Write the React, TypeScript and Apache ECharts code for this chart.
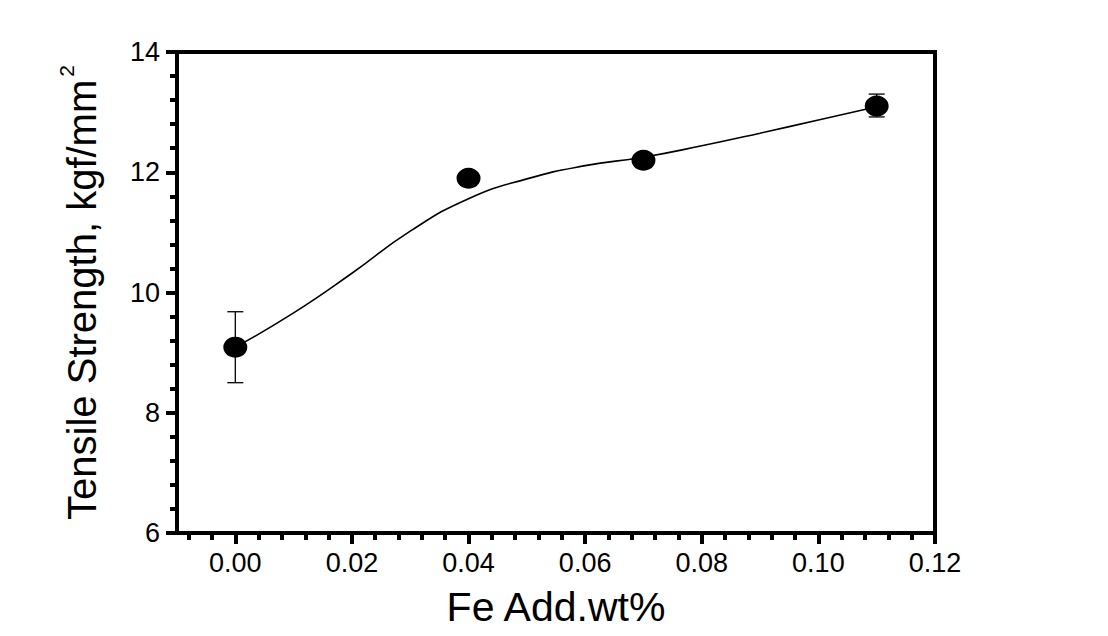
import React, { useEffect, useRef } from "react";
import * as echarts from "echarts";

// Measured points
const feAdd = [0, 0.04, 0.07, 0.11];
const strength = [9.09, 11.9, 12.2, 13.1];
// Error bars [x, low, high]
const errX = [0, 0.11];
const errLow = [8.5, 12.92];
const errHigh = [9.68, 13.3];
// Fitted curve
const curveX = [0, 0.01, 0.02, 0.03, 0.04, 0.05, 0.06, 0.07, 0.08, 0.09, 0.1, 0.11];
const curveY = [9.09, 9.66, 10.32, 11.02, 11.56, 11.89, 12.11, 12.25, 12.44, 12.65, 12.87, 13.09];
// Axis ticks
const xMajorTicks = [0, 0.02, 0.04, 0.06, 0.08, 0.1, 0.12];
const xMinorTicks = [
  -0.008, -0.004, 0.004, 0.008, 0.012, 0.016, 0.024, 0.028, 0.032, 0.036,
  0.044, 0.048, 0.052, 0.056, 0.064, 0.068, 0.072, 0.076, 0.084, 0.088,
  0.092, 0.096, 0.104, 0.108, 0.112, 0.116,
];

const FONT = "Liberation Sans, Arial, sans-serif";

export default function App() {
  const ref = useRef<HTMLDivElement>(null);
  useEffect(() => {
    document.body.style.margin = "0";
    const chart = echarts.init(ref.current!, null, { renderer: "svg" });
    const grid = { left: 177, right: 173, top: 52, bottom: 103, outerBoundsMode: "none" };
    const option: any = {
      animation: false,
      backgroundColor: "#fff",
      grid: [
        { ...grid, show: true, borderColor: "#000", borderWidth: 4, backgroundColor: "transparent" },
        { ...grid },
      ],
      xAxis: [
        {
          type: "value",
          gridIndex: 0,
          min: -0.01,
          max: 0.12,
          name: "Fe Add.wt%",
          nameLocation: "middle",
          nameGap: 53,
          nameTextStyle: { fontFamily: FONT, fontSize: 41, color: "#000" },
          axisLine: { show: true, onZero: false, lineStyle: { color: "#000", width: 4 } },
          axisTick: {
            show: true,
            customValues: xMajorTicks,
            length: 11,
            lineStyle: { color: "#000", width: 4 },
          },
          axisLabel: {
            customValues: xMajorTicks,
            formatter: (v: number) => v.toFixed(2),
            fontFamily: FONT,
            fontSize: 27,
            color: "#000",
            margin: 16,
          },
          splitLine: { show: false },
        },
        {
          type: "value",
          gridIndex: 1,
          min: -0.01,
          max: 0.12,
          axisLine: { show: false, onZero: false },
          axisTick: {
            show: true,
            customValues: xMinorTicks,
            length: 7,
            lineStyle: { color: "#000", width: 4 },
          },
          axisLabel: { show: false },
          splitLine: { show: false },
        },
      ],
      yAxis: [
        {
          type: "value",
          gridIndex: 0,
          min: 6,
          max: 14,
          interval: 2,
          name: "{a|Tensile Strength, kgf/mm}{s|2}",
          nameLocation: "middle",
          nameRotate: 90,
          nameGap: 75,
          nameTextStyle: {
            rich: {
              a: { fontFamily: FONT, fontSize: 40, color: "#000", lineHeight: 46, verticalAlign: "bottom" },
              s: { fontFamily: FONT, fontSize: 21, color: "#000", lineHeight: 46, verticalAlign: "top", padding: [0, 0, 0, 3] },
            },
          },
          axisLine: { show: true, onZero: false, lineStyle: { color: "#000", width: 4 } },
          axisTick: { show: true, length: 11, lineStyle: { color: "#000", width: 4 } },
          minorTick: { show: true, splitNumber: 5, length: 7, lineStyle: { color: "#000", width: 4 } },
          axisLabel: { fontFamily: FONT, fontSize: 27, color: "#000", margin: 17 },
          splitLine: { show: false },
          minorSplitLine: { show: false },
        },
        {
          type: "value",
          gridIndex: 1,
          min: 6,
          max: 14,
          show: false,
        },
      ],
      series: [
        {
          type: "line",
          xAxisIndex: 0,
          yAxisIndex: 0,
          data: curveX.map((x, i) => [x, curveY[i]]),
          smooth: 0.5,
          showSymbol: false,
          symbol: "none",
          lineStyle: { color: "#000", width: 1.6 },
          z: 2,
        },
        {
          type: "custom",
          xAxisIndex: 0,
          yAxisIndex: 0,
          data: errX.map((x, i) => [x, errLow[i], errHigh[i]]),
          renderItem: (params: any, api: any) => {
            const x = api.value(0);
            const p1 = api.coord([x, api.value(2)]);
            const p2 = api.coord([x, api.value(1)]);
            const hw = 8;
            const st = { stroke: "#000", lineWidth: 1.3 };
            return {
              type: "group",
              children: [
                { type: "line", shape: { x1: p1[0], y1: p1[1], x2: p2[0], y2: p2[1] }, style: st },
                { type: "line", shape: { x1: p1[0] - hw, y1: p1[1], x2: p1[0] + hw, y2: p1[1] }, style: st },
                { type: "line", shape: { x1: p2[0] - hw, y1: p2[1], x2: p2[0] + hw, y2: p2[1] }, style: st },
              ],
            };
          },
          z: 3,
        },
        {
          type: "scatter",
          xAxisIndex: 0,
          yAxisIndex: 0,
          data: feAdd.map((x, i) => [x, strength[i]]),
          symbol: "circle",
          symbolSize: [24, 21],
          itemStyle: { color: "#000", opacity: 1 },
          z: 4,
        },
      ],
    };
    chart.setOption(option);
    return () => chart.dispose();
  }, []);
  return <div ref={ref} style={{ width: 1108, height: 636 }} />;
}
